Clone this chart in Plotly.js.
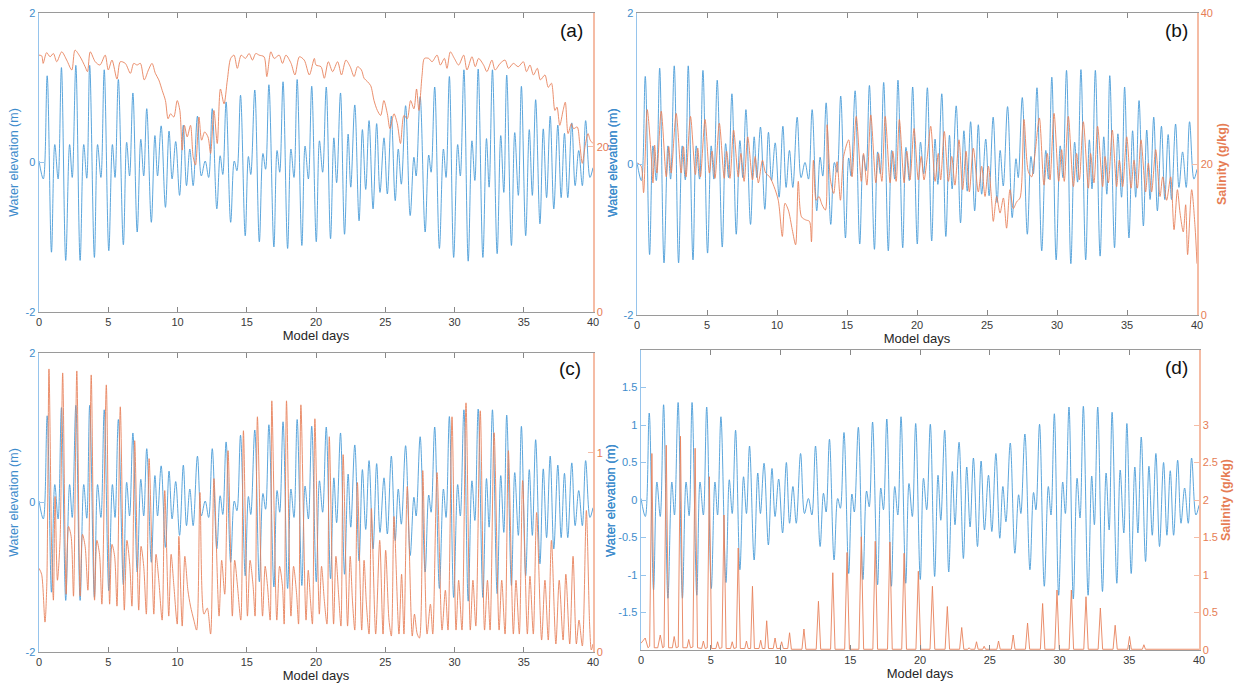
<!DOCTYPE html>
<html>
<head>
<meta charset="utf-8">
<script src="https://cdn.plot.ly/plotly-3.0.1.min.js"></script>
<style>html,body{margin:0;padding:0;background:#fff;}#chart{width:1248px;height:695px;}</style>
</head>
<body>
<div id="chart"></div>
<script>
// ---------------- DATA ----------------
const xTicks = [0, 5, 10, 15, 20, 25, 30, 35, 40];

// Water elevation (m): turning points of the tidal signal (same signal in all four panels)
const elevDays = [0, 0.31, 0.59, 0.9, 1.14, 1.38, 1.62, 1.93, 2.21, 2.4, 2.66, 2.97, 3.23, 3.45, 3.66, 4.0, 4.23, 4.47, 4.71, 5.04, 5.3, 5.49, 5.73, 6.09, 6.33, 6.54, 6.78, 7.09, 7.35, 7.56, 7.78, 8.11, 8.37, 8.56, 8.82, 9.13, 9.39, 9.61, 9.87, 10.15, 10.42, 10.65, 10.89, 11.13, 11.44, 11.72, 12.0, 12.25, 12.51, 12.84, 13.08, 13.27, 13.51, 13.84, 14.1, 14.29, 14.55, 14.89, 15.12, 15.29, 15.58, 15.91, 16.17, 16.36, 16.6, 16.96, 17.19, 17.38, 17.62, 17.95, 18.19, 18.41, 18.64, 18.98, 19.21, 19.45, 19.69, 20.02, 20.25, 20.48, 20.74, 21.05, 21.29, 21.49, 21.77, 22.06, 22.32, 22.51, 22.8, 23.11, 23.35, 23.59, 23.83, 24.12, 24.38, 24.62, 24.91, 25.15, 25.44, 25.72, 25.94, 26.16, 26.47, 26.8, 27.07, 27.23, 27.52, 27.88, 28.14, 28.31, 28.57, 28.91, 29.2, 29.39, 29.63, 29.94, 30.23, 30.42, 30.68, 30.99, 31.26, 31.47, 31.71, 32.05, 32.31, 32.5, 32.74, 33.08, 33.34, 33.56, 33.77, 34.11, 34.35, 34.61, 34.83, 35.14, 35.4, 35.62, 35.86, 36.17, 36.41, 36.65, 36.91, 37.17, 37.46, 37.7, 37.94, 38.18, 38.47, 38.71, 38.97, 39.23, 39.47, 39.78, 40.0];
const elevVals = [0.02, -0.22, 1.16, -1.2, 0.24, -0.22, 1.27, -1.31, 0.24, -0.2, 1.3, -1.31, 0.24, -0.21, 1.3, -1.27, 0.24, -0.2, 1.24, -1.18, 0.24, -0.2, 1.11, -1.1, 0.27, -0.18, 0.93, -0.93, 0.31, -0.18, 0.72, -0.8, 0.36, -0.18, 0.49, -0.6, 0.42, -0.22, 0.28, -0.44, 0.5, -0.31, 0.18, -0.31, 0.62, -0.18, 0.02, -0.2, 0.72, -0.62, 0.09, -0.16, 0.81, -0.8, 0.02, -0.11, 0.9, -0.98, 0.08, -0.16, 0.97, -1.06, 0.12, -0.09, 1.04, -1.13, 0.16, -0.13, 1.08, -1.15, 0.18, -0.2, 1.11, -1.11, 0.22, -0.22, 1.02, -1.06, 0.29, -0.13, 1.01, -1.02, 0.33, -0.27, 0.93, -0.96, 0.38, -0.33, 0.77, -0.78, 0.44, -0.36, 0.56, -0.62, 0.52, -0.4, 0.33, -0.42, 0.62, -0.51, 0.18, -0.29, 0.76, -0.71, 0.07, -0.18, 0.88, -0.93, 0.1, -0.13, 1.01, -1.15, 0.18, -0.2, 1.15, -1.27, 0.24, -0.18, 1.24, -1.32, 0.29, -0.24, 1.25, -1.27, 0.32, -0.33, 1.24, -1.22, 0.36, -0.4, 1.17, -1.11, 0.4, -0.44, 1.02, -0.98, 0.44, -0.44, 0.84, -0.82, 0.45, -0.47, 0.62, -0.62, 0.5, -0.47, 0.39, -0.47, 0.53, -0.31, 0.16, -0.31, 0.56, -0.2, -0.07];

// Panel (a) salinity (g/kg)
const salADays = [0, 0.2, 0.3, 0.55, 0.8, 1.04, 1.28, 1.64, 2.0, 2.37, 2.6, 2.97, 3.33, 3.5, 3.7, 4.06, 4.4, 4.78, 5.0, 5.27, 5.63, 5.87, 6.23, 6.6, 6.84, 7.08, 7.32, 7.6, 7.9, 8.16, 8.4, 8.65, 8.9, 9.13, 9.32, 9.5, 9.73, 9.98, 10.17, 10.34, 10.5, 10.7, 10.94, 11.13, 11.3, 11.55, 11.74, 11.96, 12.2, 12.39, 12.63, 12.87, 13.1, 13.36, 13.6, 13.84, 14.08, 14.32, 14.6, 14.9, 15.17, 15.41, 15.65, 15.89, 16.25, 16.45, 16.74, 16.98, 17.34, 17.58, 17.83, 18.2, 18.48, 18.8, 19.15, 19.52, 19.88, 20.0, 20.36, 20.6, 20.89, 21.2, 21.56, 21.84, 22.16, 22.47, 22.75, 23.0, 23.28, 23.47, 23.71, 23.95, 24.19, 24.43, 24.67, 24.9, 25.15, 25.34, 25.63, 25.87, 26.1, 26.35, 26.59, 26.83, 27.07, 27.26, 27.43, 27.66, 27.83, 28.14, 28.38, 28.74, 28.98, 29.27, 29.46, 29.7, 29.99, 30.3, 30.66, 30.9, 31.26, 31.5, 31.74, 32.1, 32.34, 32.7, 32.93, 33.3, 33.65, 33.9, 34.25, 34.6, 34.97, 35.2, 35.45, 35.7, 35.98, 36.2, 36.53, 36.77, 37.0, 37.25, 37.4, 37.6, 37.84, 38.0, 38.2, 38.44, 38.6, 38.86, 39.04, 39.23, 39.44, 39.64, 39.8, 40.0];
const salAVals = [31.1, 31.0, 30.1, 31.4, 30.9, 31.3, 30.3, 31.5, 30.5, 29.3, 31.7, 30.9, 29.7, 29.1, 31.5, 30.3, 29.9, 31.1, 29.3, 30.5, 28.2, 30.3, 30.1, 28.9, 30.1, 29.9, 30.1, 28.1, 29.3, 30.1, 28.9, 28.1, 26.8, 25.6, 23.4, 24.0, 23.6, 25.6, 24.4, 19.6, 22.6, 21.2, 22.6, 18.8, 17.8, 23.6, 20.8, 21.8, 21.2, 19.2, 24.4, 20.4, 27.0, 25.2, 28.1, 30.7, 31.1, 29.5, 31.1, 30.7, 31.3, 30.5, 31.3, 31.1, 30.9, 28.5, 31.5, 30.7, 31.1, 30.1, 31.1, 30.1, 28.7, 30.9, 30.5, 28.7, 30.7, 29.9, 29.7, 28.3, 30.3, 29.1, 30.3, 28.7, 30.5, 29.7, 28.5, 29.7, 29.3, 28.3, 27.9, 27.4, 25.6, 24.4, 23.8, 25.6, 24.0, 22.2, 24.0, 22.8, 20.4, 23.8, 23.4, 25.6, 24.6, 27.0, 24.4, 28.7, 30.7, 30.7, 30.3, 31.1, 29.9, 30.7, 29.5, 31.5, 30.7, 29.9, 31.1, 29.3, 30.9, 29.7, 30.7, 29.9, 29.1, 30.5, 29.3, 30.1, 30.5, 29.5, 30.1, 29.7, 30.3, 29.1, 29.9, 28.7, 29.5, 28.1, 28.7, 27.2, 27.7, 24.4, 24.8, 22.6, 24.4, 25.4, 21.6, 22.8, 22.2, 22.4, 20.4, 18.0, 20.2, 21.6, 20.8, 20.4];

// Panel (b) salinity (g/kg)
const salBDays = [0.07, 0.3, 0.47, 0.73, 1.02, 1.14, 1.26, 1.42, 1.73, 2.09, 2.27, 2.44, 2.8, 3.15, 3.32, 3.5, 3.82, 4.17, 4.34, 4.53, 4.86, 5.17, 5.36, 5.57, 5.88, 6.23, 6.4, 6.64, 6.9, 7.23, 7.42, 7.65, 7.91, 8.25, 8.44, 8.67, 8.96, 9.19, 9.48, 9.79, 10.09, 10.38, 10.57, 10.81, 11.09, 11.33, 11.52, 11.75, 12.04, 12.32, 12.46, 12.6, 12.8, 12.99, 13.22, 13.46, 13.58, 13.82, 14.05, 14.29, 14.53, 14.76, 15.12, 15.36, 15.66, 16.02, 16.18, 16.42, 16.7, 17.06, 17.25, 17.49, 17.73, 18.08, 18.27, 18.51, 18.74, 19.08, 19.27, 19.5, 19.79, 20.09, 20.3, 20.5, 20.74, 20.98, 21.29, 21.52, 21.69, 21.95, 22.24, 22.48, 22.71, 23.0, 23.26, 23.5, 23.74, 24.02, 24.38, 24.62, 24.86, 25.1, 25.33, 25.45, 25.69, 25.93, 26.17, 26.4, 26.64, 26.88, 27.12, 27.36, 27.64, 27.95, 28.19, 28.43, 28.74, 29.07, 29.31, 29.5, 29.79, 30.12, 30.33, 30.52, 30.81, 31.17, 31.4, 31.6, 31.88, 32.24, 32.4, 32.64, 32.9, 33.26, 33.43, 33.67, 33.95, 34.26, 34.45, 34.69, 34.98, 35.29, 35.5, 35.74, 36.0, 36.33, 36.52, 36.76, 37.05, 37.36, 37.55, 37.83, 38.12, 38.36, 38.6, 38.79, 39.02, 39.19, 39.33, 39.62, 39.86, 40.0];
const salBVals = [20.1, 19.7, 16.2, 27.2, 21.0, 17.5, 22.5, 18.8, 27.0, 18.3, 22.3, 18.8, 26.7, 18.8, 22.3, 18.3, 26.3, 18.6, 22.1, 18.3, 25.9, 18.8, 21.7, 18.1, 25.4, 18.1, 21.7, 18.1, 24.5, 18.3, 21.4, 17.7, 23.6, 17.9, 21.0, 17.5, 20.5, 18.8, 18.3, 17.0, 15.2, 10.4, 14.8, 13.9, 11.3, 9.3, 17.7, 13.0, 12.6, 12.4, 9.7, 20.5, 15.2, 15.7, 14.6, 13.9, 25.2, 17.9, 16.1, 20.3, 15.2, 21.0, 23.2, 18.3, 26.3, 17.7, 21.4, 17.2, 26.5, 17.5, 21.4, 17.7, 26.3, 17.5, 21.7, 17.7, 25.9, 17.5, 21.7, 17.9, 24.7, 17.9, 21.0, 17.9, 21.0, 25.0, 17.7, 21.4, 17.9, 24.3, 17.7, 21.0, 17.2, 23.2, 16.6, 21.7, 16.3, 22.1, 16.3, 19.7, 15.7, 19.7, 15.2, 12.4, 15.7, 13.5, 15.5, 11.5, 16.6, 14.1, 15.0, 15.5, 25.9, 19.0, 18.3, 21.4, 26.1, 17.2, 21.4, 17.9, 26.7, 17.7, 21.9, 17.7, 26.3, 17.0, 21.4, 17.9, 25.6, 16.8, 21.4, 17.5, 25.0, 17.0, 21.0, 17.5, 24.5, 17.0, 20.5, 17.0, 23.6, 16.8, 20.5, 16.8, 23.2, 16.3, 20.1, 16.3, 21.9, 15.7, 18.3, 15.2, 18.3, 11.3, 16.6, 13.5, 11.0, 14.6, 8.0, 16.6, 11.7, 6.8];

// Panel (c) salinity (g/kg)
const salCDays = [0, 0.19, 0.43, 0.56, 0.72, 0.92, 1.04, 1.16, 1.33, 1.52, 1.71, 1.96, 2.13, 2.32, 2.49, 2.73, 2.97, 3.14, 3.33, 3.53, 3.77, 4.01, 4.18, 4.37, 4.54, 4.86, 5.1, 5.27, 5.46, 5.63, 5.87, 6.16, 6.35, 6.55, 6.71, 6.91, 7.2, 7.37, 7.56, 7.75, 7.95, 8.29, 8.45, 8.65, 8.89, 9.08, 9.37, 9.54, 9.73, 9.98, 10.1, 10.34, 10.53, 10.75, 10.94, 11.18, 11.38, 11.62, 11.91, 12.15, 12.39, 12.63, 13.0, 13.19, 13.41, 13.65, 13.96, 14.13, 14.32, 14.57, 14.76, 15.05, 15.24, 15.46, 15.6, 15.77, 16.14, 16.33, 16.5, 16.69, 16.81, 17.17, 17.37, 17.58, 17.7, 17.87, 18.19, 18.38, 18.6, 18.74, 18.91, 19.28, 19.44, 19.6, 19.74, 19.92, 20.24, 20.4, 20.6, 20.79, 20.96, 21.27, 21.44, 21.63, 21.8, 21.96, 22.28, 22.47, 22.63, 22.8, 22.99, 23.3, 23.47, 23.64, 23.83, 24.0, 24.31, 24.6, 24.84, 25.03, 25.27, 25.44, 25.63, 25.99, 26.18, 26.35, 26.59, 26.95, 27.11, 27.31, 27.47, 27.71, 28.02, 28.26, 28.43, 28.74, 29.1, 29.34, 29.53, 29.82, 30.11, 30.3, 30.54, 30.83, 31.14, 31.33, 31.54, 31.86, 32.17, 32.38, 32.57, 32.86, 33.22, 33.41, 33.65, 33.89, 34.25, 34.44, 34.68, 34.92, 35.26, 35.45, 35.69, 35.93, 36.29, 36.53, 36.77, 37.0, 37.32, 37.56, 37.84, 38.04, 38.32, 38.56, 38.8, 38.99, 39.23, 39.52, 39.76, 39.88, 40.0];
const salCVals = [0.42, 0.39, 0.15, 0.33, 1.42, 0.49, 0.26, 0.78, 0.36, 0.56, 1.4, 0.29, 0.63, 0.58, 0.28, 1.41, 0.28, 0.59, 0.53, 0.31, 1.39, 0.26, 0.56, 0.49, 0.24, 1.34, 0.24, 0.54, 0.48, 0.23, 1.23, 0.21, 0.56, 0.44, 0.23, 1.06, 0.21, 0.53, 0.43, 0.19, 0.97, 0.19, 0.49, 0.36, 0.16, 0.81, 0.18, 0.49, 0.34, 0.14, 0.58, 0.13, 0.48, 0.31, 0.23, 0.16, 0.11, 0.8, 0.19, 0.22, 0.09, 0.87, 0.18, 0.46, 0.29, 1.01, 0.18, 0.46, 0.34, 0.16, 1.11, 0.18, 0.46, 0.33, 0.18, 1.18, 0.18, 0.43, 0.33, 0.16, 1.26, 0.16, 0.43, 0.33, 0.14, 1.26, 0.18, 0.43, 0.29, 0.14, 1.24, 0.16, 0.41, 0.26, 0.14, 1.17, 0.19, 0.43, 0.26, 0.14, 1.08, 0.14, 0.48, 0.29, 0.13, 0.99, 0.13, 0.48, 0.26, 0.11, 0.85, 0.11, 0.46, 0.24, 0.09, 0.72, 0.09, 0.56, 0.09, 0.51, 0.16, 0.08, 0.68, 0.09, 0.39, 0.09, 0.83, 0.08, 0.19, 0.09, 0.07, 0.91, 0.09, 0.24, 0.09, 0.9, 0.11, 0.31, 0.11, 1.18, 0.11, 0.36, 0.11, 1.25, 0.11, 0.36, 0.13, 1.21, 0.11, 0.36, 0.11, 1.1, 0.11, 0.36, 0.09, 1.01, 0.09, 0.36, 0.09, 0.86, 0.09, 0.38, 0.09, 0.7, 0.06, 0.36, 0.06, 0.56, 0.04, 0.36, 0.06, 0.39, 0.04, 0.48, 0.04, 0.16, 0.03, 0.71, 0.13, 0.01, 0.04];

// Panel (d) salinity (g/kg)
const salDDays = [0, 0.3, 0.5, 0.62, 0.78, 0.95, 1.2, 1.38, 1.55, 1.65, 1.81, 1.98, 2.25, 2.38, 2.52, 2.67, 2.83, 3.0, 3.3, 3.42, 3.55, 3.72, 3.88, 4.05, 4.35, 4.47, 4.6, 4.75, 4.9, 5.06, 5.37, 5.49, 5.62, 5.8, 5.95, 6.1, 6.42, 6.54, 6.66, 6.83, 6.97, 7.12, 7.44, 7.56, 7.68, 7.86, 7.99, 8.13, 8.46, 8.58, 8.7, 8.88, 9.01, 9.14, 9.48, 9.61, 9.74, 9.96, 10.08, 10.2, 10.52, 10.65, 10.78, 11.54, 11.68, 11.82, 12.56, 12.72, 12.88, 13.59, 13.75, 13.91, 14.6, 14.77, 14.94, 15.62, 15.79, 15.96, 16.62, 16.79, 16.96, 17.67, 17.84, 18.01, 18.69, 18.86, 19.03, 19.71, 19.88, 20.05, 20.72, 20.89, 21.06, 21.8, 21.96, 22.12, 22.84, 22.99, 23.14, 23.42, 23.52, 23.62, 23.93, 24.05, 24.17, 24.5, 24.6, 24.7, 25.51, 25.63, 25.75, 26.55, 26.68, 26.81, 27.56, 27.71, 27.86, 28.63, 28.79, 28.95, 29.66, 29.82, 29.98, 30.69, 30.85, 31.01, 31.74, 31.9, 32.06, 32.77, 32.93, 33.09, 33.84, 33.99, 34.14, 34.89, 35.02, 35.15, 35.94, 36.05, 36.16, 40.0];
const salDVals = [0.09, 0.16, 0.03, 0.05, 2.62, 0.03, 0.03, 0.2, 0.03, 0.04, 2.73, 0.03, 0.03, 0.18, 0.03, 0.04, 2.85, 0.03, 0.03, 0.14, 0.03, 0.04, 2.69, 0.03, 0.02, 0.12, 0.02, 0.03, 2.31, 0.02, 0.02, 0.11, 0.02, 0.03, 1.8, 0.02, 0.02, 0.11, 0.02, 0.03, 1.36, 0.02, 0.02, 0.12, 0.02, 0.02, 0.85, 0.02, 0.02, 0.13, 0.02, 0.02, 0.39, 0.02, 0.02, 0.16, 0.02, 0.02, 0.11, 0.02, 0.02, 0.23, 0.01, 0.01, 0.28, 0.01, 0.01, 0.65, 0.01, 0.01, 1.03, 0.01, 0.01, 1.3, 0.01, 0.01, 1.51, 0.01, 0.01, 1.45, 0.01, 0.01, 1.44, 0.01, 0.01, 1.29, 0.01, 0.01, 1.05, 0.01, 0.01, 0.85, 0.01, 0.01, 0.58, 0.01, 0.01, 0.3, 0.01, 0.01, 0.03, 0.01, 0.01, 0.11, 0.01, 0.01, 0.05, 0.01, 0.01, 0.12, 0.01, 0.01, 0.2, 0.01, 0.01, 0.36, 0.01, 0.01, 0.62, 0.01, 0.01, 0.8, 0.01, 0.01, 0.8, 0.01, 0.01, 0.71, 0.01, 0.01, 0.56, 0.01, 0.01, 0.33, 0.01, 0.01, 0.18, 0.01, 0.01, 0.07, 0.01, 0.01];

// ---------------- STYLE ----------------
const FONT = 'Liberation Sans, Arial, Helvetica, sans-serif';
const BLUE_LINE = 'rgb(74,156,216)';
const ORANGE_LINE = 'rgb(232,130,92)';
const BLUE_AXIS = 'rgb(150,196,236)';
const BLUE_TEXT = 'rgb(62,140,204)';
const ORANGE_AXIS = 'rgb(245,188,165)';
const ORANGE_TEXT = 'rgb(230,125,85)';

function xAxis(domain, anchor) {
  return {
    domain: domain, anchor: anchor, range: [0, 40], tickvals: xTicks,
    ticks: 'inside', ticklen: 5, tickcolor: '#888', showline: true, linecolor: '#9a9a9a',
    linewidth: 1, mirror: 'ticks', showgrid: false, zeroline: false, automargin: false,
    tickfont: {family: FONT, size: 11, color: '#3a3a3a'},
    title: {text: 'Model days', font: {family: FONT, size: 13, color: '#262626'}, standoff: 2}
  };
}
function leftAxis(domain, anchor, range, tickvals, ticktext, title) {
  return {
    domain: domain, anchor: anchor, range: range, tickvals: tickvals, ticktext: ticktext,
    ticks: 'inside', ticklen: 5, tickcolor: BLUE_AXIS, showline: true, linecolor: BLUE_AXIS,
    linewidth: 1.5, showgrid: false, zeroline: false, automargin: false,
    tickfont: {family: FONT, size: 11, color: BLUE_TEXT},
    title: {text: title, font: {family: FONT, size: 12.5, color: BLUE_TEXT}, standoff: 4}
  };
}
function rightAxis(overlay, anchor, range, tickvals, ticktext, title, bold, standoff) {
  return {
    overlaying: overlay, anchor: anchor, side: 'right', range: range, tickvals: tickvals, ticktext: ticktext,
    ticks: 'inside', ticklen: 5, tickcolor: ORANGE_AXIS, showline: true, linecolor: ORANGE_AXIS,
    linewidth: 1.5, showgrid: false, zeroline: false, automargin: false,
    tickfont: {family: FONT, size: 11, color: ORANGE_TEXT},
    title: {text: title, font: {family: FONT, size: 12.5, color: ORANGE_TEXT, weight: bold ? 'bold' : 'normal'}, standoff: standoff}
  };
}

function blueTrace(xa, ya) {
  return {x: elevDays, y: elevVals, xaxis: xa, yaxis: ya, type: 'scatter', mode: 'lines',
    line: {color: BLUE_LINE, width: 0.9, shape: 'spline', smoothing: 1}, hoverinfo: 'skip', showlegend: false};
}
function orangeTrace(xs, ys, xa, ya, shape) {
  return {x: xs, y: ys, xaxis: xa, yaxis: ya, type: 'scatter', mode: 'lines',
    line: {color: ORANGE_LINE, width: 0.9, shape: shape, smoothing: 0.8}, hoverinfo: 'skip', showlegend: false};
}

const W = 1248, H = 695;
const dA = {x: [39 / W, 593 / W], y: [1 - 312 / H, 1 - 13 / H]};
const dB = {x: [637 / W, 1197 / W], y: [1 - 315 / H, 1 - 13 / H]};
const dC = {x: [39 / W, 593 / W], y: [1 - 652 / H, 1 - 353 / H]};
const dD = {x: [641 / W, 1199 / W], y: [1 - 650 / H, 1 - 350 / H]};

const data = [
  blueTrace('x', 'y'),
  orangeTrace(salADays, salAVals, 'x', 'y2', 'spline'),
  blueTrace('x2', 'y3'),
  orangeTrace(salBDays, salBVals, 'x2', 'y4', 'spline'),
  blueTrace('x3', 'y5'),
  orangeTrace(salCDays, salCVals, 'x3', 'y6', 'spline'),
  blueTrace('x4', 'y7'),
  orangeTrace(salDDays, salDVals, 'x4', 'y8', 'linear')
];

function panelLabel(txt, px, py) {
  return {text: txt, x: px / W, y: 1 - py / H, xref: 'paper', yref: 'paper', showarrow: false,
    font: {family: FONT, size: 19, color: '#111'}, xanchor: 'center', yanchor: 'middle'};
}
// y-axis titles that share the gap between the left and right panels (they overlap there)
function midTitle(px, py, size) {
  return {text: 'Water elevation (m)', x: px / W, y: 1 - py / H, xref: 'paper', yref: 'paper',
    showarrow: false, textangle: -90, xanchor: 'center', yanchor: 'middle',
    font: {family: FONT, size: size, color: BLUE_TEXT}};
}

const layout = {
  width: W, height: H, margin: {l: 0, r: 0, t: 0, b: 0}, paper_bgcolor: '#fff', plot_bgcolor: '#fff',
  showlegend: false,
  xaxis: xAxis(dA.x, 'y'),
  yaxis: leftAxis(dA.y, 'x', [-2, 2], [-2, 0, 2], ['-2', '0', '2'], 'Water elevation (m)'),
  yaxis2: rightAxis('y', 'x', [0, 36.2], [0, 20], ['0', '20'], '', false, 3),
  xaxis2: xAxis(dB.x, 'y3'),
  yaxis3: leftAxis(dB.y, 'x2', [-2, 2], [-2, 0, 2], ['-2', '0', '2'], ''),
  yaxis4: rightAxis('y3', 'x2', [0, 40], [0, 20, 40], ['0', '20', '40'], 'Salinity (g/kg)', true, 5),
  xaxis3: xAxis(dC.x, 'y5'),
  yaxis5: leftAxis(dC.y, 'x3', [-2, 2], [-2, 0, 2], ['-2', '0', '2'], 'Water elevation (m)'),
  yaxis6: rightAxis('y5', 'x3', [0, 1.5], [0, 1], ['0', '1'], '', false, 3),
  xaxis4: xAxis(dD.x, 'y7'),
  yaxis7: leftAxis(dD.y, 'x4', [-2, 2], [-1.5, -1, -0.5, 0, 0.5, 1, 1.5], ['-1.5', '-1', '-0.5', '0', '0.5', '1', '1.5'], ''),
  yaxis8: rightAxis('y7', 'x4', [0, 4], [0, 0.5, 1, 1.5, 2, 2.5, 3], ['0', '0.5', '1', '1.5', '2', '2.5', '3'], 'Salinity (g/kg)', true, 4),
  annotations: [
    panelLabel('(a)', 571, 31),
    panelLabel('(b)', 1176, 31),
    panelLabel('(c)', 570, 368),
    panelLabel('(d)', 1176, 367),
    midTitle(613, 163, 12.5),  // panel (a) right-axis title
    midTitle(613, 163, 12.5),  // panel (b) left-axis title
    midTitle(610, 501, 13),    // panel (c) right-axis title
    midTitle(610, 501, 13)     // panel (d) left-axis title
  ]
};

Plotly.newPlot('chart', data, layout, {displayModeBar: false, staticPlot: true});
</script>
</body>
</html>
